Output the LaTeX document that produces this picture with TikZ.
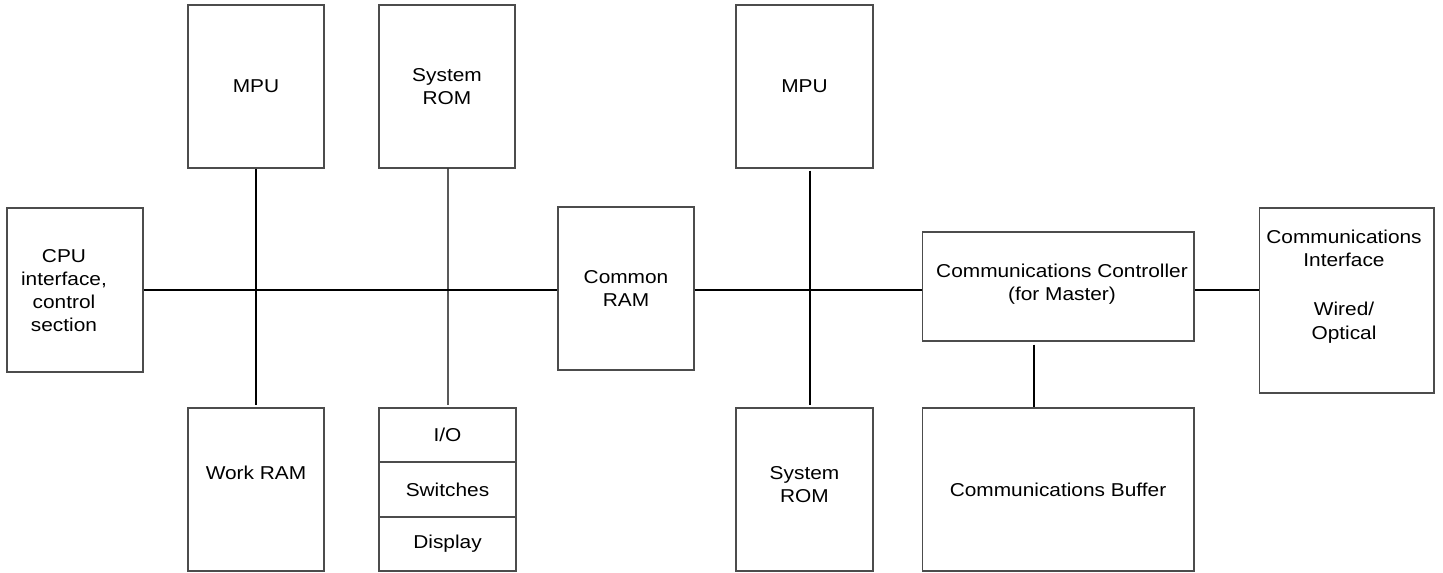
\documentclass[tikz,border=0pt]{standalone}
\usepackage{fontspec}
\setmainfont{Liberation Sans}[FakeStretch=1.12]
\usetikzlibrary{calc}
\begin{document}
\begin{tikzpicture}[x=0.02cm,y=-0.02cm,
  lbl/.style={font=\fontsize{10.6}{13.1}\selectfont, align=center},
  box/.style={lbl, draw=black!70, line width=0.6pt, rectangle, inner sep=0pt},
  txt/.style={lbl, inner sep=0pt},
  wire/.style={draw=black, line width=0.6pt}]
\useasboundingbox (0,0) rectangle (1443,573);
% boxes
\node[box, minimum width=2.72cm, minimum height=3.28cm] (cpu) at (75,290) {};
\node[txt] (cputxt) at (64,291) {CPU\\interface,\\control\\section};
\node[box, minimum width=2.72cm, minimum height=3.26cm] (mpuL) at (256,86.5) {MPU};
\node[box, minimum width=2.72cm, minimum height=3.26cm] (wram) at (256,489.5) {};
\node[txt] (wramtxt) at (256,473) {Work RAM};
\node[box, minimum width=2.72cm, minimum height=3.26cm] (romT) at (447,86.5) {System\\ROM};
\node[box, minimum width=2.74cm, minimum height=1.08cm] (io1) at (447.5,435) {I/O};
\node[box, minimum width=2.74cm, minimum height=1.10cm] (io2) at (447.5,489.5) {Switches};
\node[box, minimum width=2.74cm, minimum height=1.08cm] (io3) at (447.5,544) {Display};
\node[box, minimum width=2.72cm, minimum height=3.26cm] (cram) at (626,288.5) {Common\\RAM};
\node[box, minimum width=2.74cm, minimum height=3.26cm] (mpuR) at (804.5,86.5) {MPU};
\node[box, minimum width=2.74cm, minimum height=3.26cm] (romB) at (804.5,489.5) {};
\node[txt] (romBtxt) at (804.5,485) {System\\ROM};
\node[box, minimum width=5.44cm, minimum height=2.18cm] (ctrl) at (1058,286.5) {};
\node[txt] (ctrltxt) at (1062,284) {Communications Controller\\(for Master)};
\node[box, minimum width=5.44cm, minimum height=3.26cm] (buf) at (1058,489.5) {Communications Buffer};
\node[box, minimum width=3.5cm, minimum height=3.7cm] (intf) at (1346.5,300.5) {};
\node[txt] (intftxt) at (1344,286.5) {Communications\\Interface\\[15pt]Wired/\\Optical};
% bus
\draw[wire] (cpu.east) -- (cpu.east -| cram.west);
\draw[wire] (cram.east |- cpu.east) -- (cpu.east -| ctrl.west);
\draw[wire] (ctrl.east |- cpu.east) -- (cpu.east -| intf.west);
% verticals
\draw[wire, shorten >=0.05cm] (mpuL.south) -- (wram.north);
\draw[wire, shorten >=0.05cm] ($(romT.south)+(1,0)$) -- ($(io1.north)+(0.5,0)$);
\draw[wire, shorten <=0.04cm, shorten >=0.04cm] ($(mpuR.south)+(5.5,0)$) -- ($(romB.north)+(5.5,0)$);
\draw[wire, shorten <=0.06cm] ($(ctrl.south)+(-24,0)$) -- ($(buf.north)+(-24,0)$);
\end{tikzpicture}
\end{document}
